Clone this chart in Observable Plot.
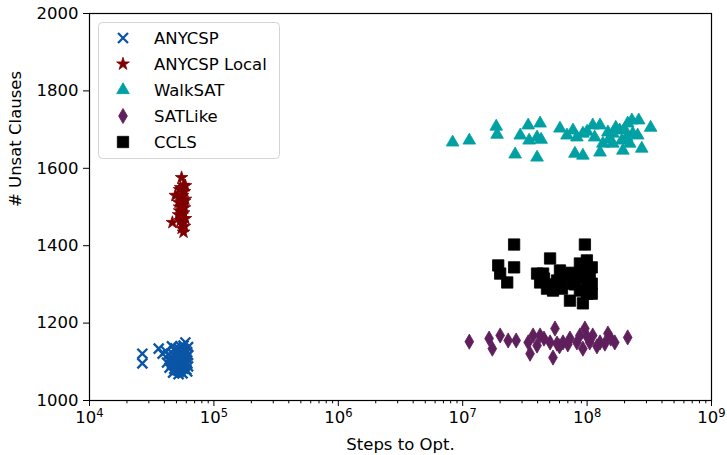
<!DOCTYPE html>
<html><head><meta charset="utf-8">
<script src="https://cdn.jsdelivr.net/npm/d3@7"></script>
<script src="https://cdn.jsdelivr.net/npm/@observablehq/plot@0.6"></script>
<style>
body{margin:0;background:#fff;}
#wrap{position:relative;width:727px;height:455px;font-family:"DejaVu Sans",sans-serif;}
#legend{position:absolute;left:0;top:0;pointer-events:none;}
</style>
</head><body><div id="wrap"></div>
<script>
// ---- data: [steps to opt., # unsat clauses] ----
const anycsp = [
[2.66e4,1121],[2.66e4,1096],[3.6e4,1134],[3.87e4,1121],[4.1e4,1128],[4.2e4,1098],[4.4e4,1085],[4.5e4,1112],
[4.6e4,1140],[4.7e4,1072],[4.8e4,1105],[4.9e4,1090],[5.0e4,1125],[5.0e4,1080],[5.1e4,1100],[5.2e4,1115],
[5.3e4,1076],[5.3e4,1132],[5.4e4,1095],[5.5e4,1108],[5.5e4,1085],[5.6e4,1120],[5.6e4,1070],[5.7e4,1100],
[5.8e4,1090],[5.8e4,1130],[5.9e4,1150],[6.0e4,1080],[6.0e4,1110],[6.1e4,1095],[6.2e4,1118],[4.3e4,1118],
[4.6e4,1095],[5.2e4,1088],[5.4e4,1140],[6.2e4,1138],[6.1e4,1075],[4.7e4,1120],[4.9e4,1135],[5.1e4,1078],
[5.3e4,1105],[5.5e4,1128],[5.7e4,1082],[5.9e4,1102],[6.1e4,1125],[4.5e4,1102],[5.0e4,1112],[5.6e4,1095],
[5.8e4,1112],[6.0e4,1098],[5.2e4,1068],[4.8e4,1082],[5.4e4,1118],[6.2e4,1088],[5.7e4,1142]
];
const anycspLocal = [
[5.5e4,1576],[5.7e4,1556],[5.3e4,1545],[5.8e4,1540],[4.9e4,1530],[5.4e4,1525],[5.9e4,1520],[5.2e4,1512],
[5.6e4,1505],[5.8e4,1498],[5.3e4,1490],[5.7e4,1485],[5.5e4,1478],[5.9e4,1470],[5.4e4,1465],[4.64e4,1460],
[5.6e4,1458],[5.8e4,1450],[5.5e4,1445],[5.7e4,1435],[5.3e4,1500],[5.6e4,1530],[5.9e4,1555],[5.5e4,1515],
[5.4e4,1550],[5.2e4,1480],[5.6e4,1470],[5.8e4,1515]
];
const walkSAT = [
[8.3e6,1667],[1.13e7,1672],[1.86e7,1708],[1.89e7,1687],[2.64e7,1636],[2.9e7,1685],[3.36e7,1711],[3.42e7,1672],
[3.96e7,1628],[4.19e7,1716],[3.96e7,1680],[4.27e7,1674],[6.05e7,1703],[6.89e7,1685],[7.7e7,1698],[8.28e7,1680],
[7.98e7,1638],[9.25e7,1633],[9.25e7,1690],[1.11e8,1711],[1.27e8,1711],[1.34e8,1664],[1.47e8,1693],[1.27e8,1641],
[1.61e8,1664],[1.83e8,1698],[1.90e8,1672],[1.94e8,1646],[2.12e8,1716],[2.29e8,1724],[2.33e8,1690],[2.20e8,1664],
[2.60e8,1724],[2.55e8,1685],[2.75e8,1651],[3.24e8,1705],[1.61e8,1690],[2.08e8,1680],[1.0e8,1695],[1.15e8,1680],
[1.7e8,1705],[2.0e8,1700],[1.5e8,1675]
];
const satLike = [
[1.13e7,1152],[1.63e7,1160],[1.73e7,1134],[2.0e7,1168],[2.32e7,1155],[2.69e7,1155],[3.36e7,1150],[3.48e7,1121],
[3.68e7,1168],[4.19e7,1168],[5.52e7,1186],[5.04e7,1150],[5.32e7,1111],[6.4e7,1150],[7.28e7,1160],[8.28e7,1150],
[9.25e7,1134],[9.6e7,1186],[1.11e8,1168],[1.27e8,1150],[1.47e8,1173],[1.67e8,1150],[2.12e8,1163],[5.73e7,1147],
[8.75e7,1168],[3.96e7,1142],[1.05e8,1150],[1.39e8,1147],[6.0e7,1140],[7.0e7,1145],[1.2e8,1140],[1.55e8,1160],
[4.5e7,1160],[1.0e8,1165]
];
const ccls = [
[2.59e7,1403],[1.93e7,1349],[2.0e7,1328],[2.28e7,1305],[2.59e7,1344],[5.04e7,1367],[3.96e7,1328],[4.19e7,1305],
[4.76e7,1289],[5.73e7,1310],[6.05e7,1336],[5.32e7,1284],[6.89e7,1318],[7.7e7,1302],[7.28e7,1258],[8.75e7,1354],
[9.6e7,1403],[9.96e7,1362],[1.05e8,1328],[1.09e8,1302],[9.25e7,1251],[1.09e8,1276],[9.96e7,1276],[8.28e7,1318],
[4.43e7,1328],[6.28e7,1289],[8.75e7,1284],[1.01e8,1310],[1.09e8,1344],[9.25e7,1328],[4.5e7,1315],[5.5e7,1300],
[6.5e7,1325],[7.5e7,1330],[8.0e7,1300],[1.0e8,1290],[6.0e7,1295],[9.0e7,1340]
];
const seriesNames = ["ANYCSP","ANYCSP Local","WalkSAT","SATLike","CCLS"];
const xMajorTicks = [1e4,1e5,1e6,1e7,1e8,1e9];
const yTicks = [1000,1200,1400,1600,1800,2000];
const xLabel = "Steps to Opt.";
const yLabel = "# Unsat Clauses";

// ---- styles ----
const styles = [
  {data: anycsp,      symbol: "times",    d3sym: d3.symbolTimes,    color: "#0b55a6", r: 4.6, stroked: true},
  {data: anycspLocal, symbol: "star",     d3sym: d3.symbolStar,     color: "#7f0000", r: 4.0},
  {data: walkSAT,     symbol: "triangle", d3sym: d3.symbolTriangle, color: "#00a0a3", r: 4.7},
  {data: satLike,     symbol: "diamond",  d3sym: d3.symbolDiamond,  color: "#5f1f5c", r: 4.6},
  {data: ccls,        symbol: "square",   d3sym: d3.symbolSquare,   color: "#000000", r: 6.4}
];

const minorTicks = [];
for (let e = 4; e < 9; e++) for (let k = 2; k <= 9; k++) minorTicks.push(k * Math.pow(10, e));
const fmtPow = d => "10^" + Math.round(Math.log10(d));

const dotMarks = styles.map(s => Plot.dot(s.data, {
  x: d => d[0], y: d => d[1], symbol: s.symbol, r: s.r,
  fill: s.stroked ? "none" : s.color,
  stroke: s.color, strokeWidth: s.stroked ? 2.3 : 0.8
}));

const chart = Plot.plot({
  width: 727, height: 455,
  marginLeft: 89, marginRight: 16, marginTop: 13, marginBottom: 55,
  style: {fontFamily: "DejaVu Sans", fontSize: "16.5px", color: "#000", background: "#fff"},
  x: {type: "log", domain: [1e4, 1e9]},
  y: {domain: [1000, 2000]},
  marks: [
    Plot.axisX({ticks: minorTicks, tickSize: 3.3, tickFormat: () => "", label: null}),
    Plot.axisX({ticks: xMajorTicks, tickSize: 6, tickPadding: 5, tickFormat: fmtPow, label: null, ariaLabel: "xmajor"}),
    Plot.axisY({ticks: yTicks, tickSize: 6, tickPadding: 5, tickFormat: d => String(d), label: null}),
    ...dotMarks,
    Plot.frame({stroke: "#000", strokeWidth: 1.2}),
    Plot.text([xLabel], {frameAnchor: "bottom", dy: 44, text: d => d, lineAnchor: "middle", fontSize: 16.5}),
    Plot.text([yLabel], {frameAnchor: "left", dx: -74, rotate: -90, text: d => d, lineAnchor: "middle", fontSize: 16.5})
  ]
});
const wrap = document.getElementById("wrap");
wrap.appendChild(chart);

// render "10^n" tick labels as 10 with a superscript exponent
d3.select(chart).selectAll("text").each(function() {
  const t = this.textContent;
  const m = /^10\^(\d+)$/.exec(t);
  if (!m) return;
  const el = d3.select(this);
  el.text("");
  el.append("tspan").text("10");
  el.append("tspan").attr("font-size", "11.5px").attr("dy", "-0.55em").text(m[1]);
});

// ---- legend overlay ----
const lg = d3.select(wrap).append("svg").attr("id","legend").attr("width",727).attr("height",455);
lg.append("rect").attr("x",98.5).attr("y",22.5).attr("width",181).attr("height",136).attr("rx",4)
  .attr("fill","rgba(255,255,255,0.85)").attr("stroke","#d4d4d4").attr("stroke-width",1);
const rowY = [38, 64, 90, 116, 142];
styles.forEach((s, i) => {
  const g = lg.append("g").attr("transform", `translate(123,${rowY[i]})`);
  g.append("path").attr("d", d3.symbol(s.d3sym, Math.PI * s.r * s.r)())
    .attr("fill", s.stroked ? "none" : s.color).attr("stroke", s.color)
    .attr("stroke-width", s.stroked ? 2.3 : 0.8);
  lg.append("text").attr("x",154).attr("y",rowY[i]).attr("dy","0.35em")
    .attr("font-family","DejaVu Sans").attr("font-size","16.5px").attr("fill","#000")
    .text(seriesNames[i]);
});
</script>
</body></html>
